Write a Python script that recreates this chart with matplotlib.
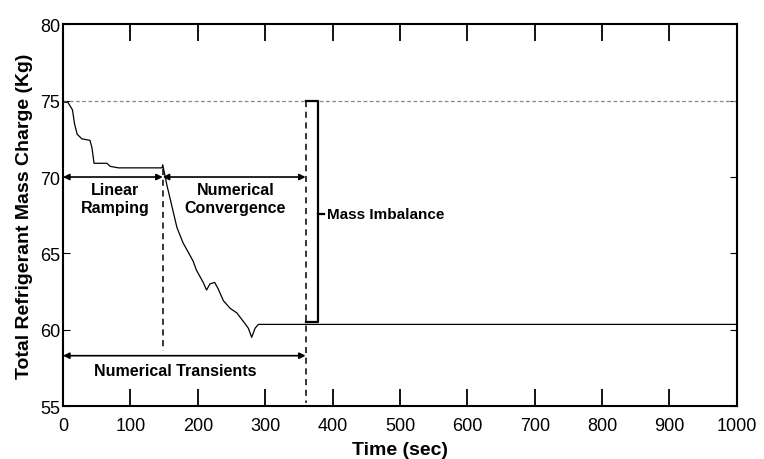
import matplotlib.pyplot as plt

plt.rcParams['font.family'] = ['Liberation Sans', 'DejaVu Sans']

# total refrigerant mass charge vs time
time_s = [0, 7, 14, 17, 21, 28, 40, 43, 46, 65, 70, 82, 147, 148,
          154, 169, 178, 193, 198, 208, 213, 218, 225, 230, 238, 248,
          258, 270, 275, 280, 285, 290, 1000]
mass_kg = [74.9, 74.9, 74.4, 73.5, 72.8, 72.5, 72.4, 71.9, 70.9, 70.9, 70.7, 70.6, 70.6, 70.8,
           69.5, 66.7, 65.7, 64.5, 63.9, 63.1, 62.6, 63.0, 63.1, 62.7, 61.9, 61.4,
           61.1, 60.4, 60.1, 59.5, 60.1, 60.35, 60.35]

initial_charge = 75.0
t_ramp = 148
t_conv = 360

xticks = list(range(0, 1001, 100))
yticks = [55, 60, 65, 70, 75, 80]

fig = plt.figure(figsize=(7.64, 4.6), dpi=100)
ax = fig.add_axes([0.0825, 0.115, 0.882, 0.83])

ax.plot([0, 1000], [initial_charge, initial_charge], color='#888888',
        linestyle=(0, (3, 2)), linewidth=0.9)
ax.plot(time_s, mass_kg, color='black', linewidth=0.9)

# vertical dashed markers
ax.plot([t_ramp, t_ramp], [70.5, 58.6], color='black', linestyle=(0, (4, 3)), linewidth=1.1)
ax.plot([t_conv, t_conv], [75, 55.2], color='black', linestyle=(0, (4, 3)), linewidth=1.1)

arrow = dict(arrowstyle='<|-|>', color='black', linewidth=1.2, mutation_scale=9,
             shrinkA=0, shrinkB=0)
ax.annotate('', xy=(0, 70), xytext=(t_ramp, 70), arrowprops=arrow)
ax.annotate('', xy=(t_ramp, 70), xytext=(t_conv, 70), arrowprops=arrow)
ax.annotate('', xy=(0, 58.3), xytext=(t_conv, 58.3), arrowprops=arrow)

# bracket for mass imbalance
ax.plot([t_conv, 378, 378, t_conv + 1], [initial_charge, initial_charge, 60.5, 60.5],
        color='black', linewidth=1.6)
ax.plot([378, 388], [67.6, 67.6], color='black', linewidth=1.6)

tb = dict(fontsize=11.5, fontweight='bold', ha='center', va='center')
ax.text(77, 68.6, 'Linear\nRamping', linespacing=1.25, **tb)
ax.text(256, 68.6, 'Numerical\nConvergence', linespacing=1.25, **tb)
ax.text(167, 57.3, 'Numerical Transients', **tb)
ax.text(392, 67.6, 'Mass Imbalance', fontsize=11, fontweight='bold', ha='left', va='center')

ax.set_xlim(0, 1000)
ax.set_ylim(55, 80)
ax.set_xticks(xticks)
ax.set_yticks(yticks)
ax.tick_params(axis='both', direction='in', labelsize=13, top=True, right=True, pad=8)
ax.tick_params(axis='x', length=12, width=1.3)
ax.tick_params(axis='y', length=5, width=0.8, pad=2)
for s in ax.spines.values():
    s.set_linewidth(1.5)

ax.set_xlabel('Time (sec)', fontsize=14, fontweight='bold', labelpad=5)
ax.set_ylabel('Total Refrigerant Mass Charge (Kg)', fontsize=14, fontweight='bold', labelpad=5)

fig.savefig('out.png', dpi=100)
